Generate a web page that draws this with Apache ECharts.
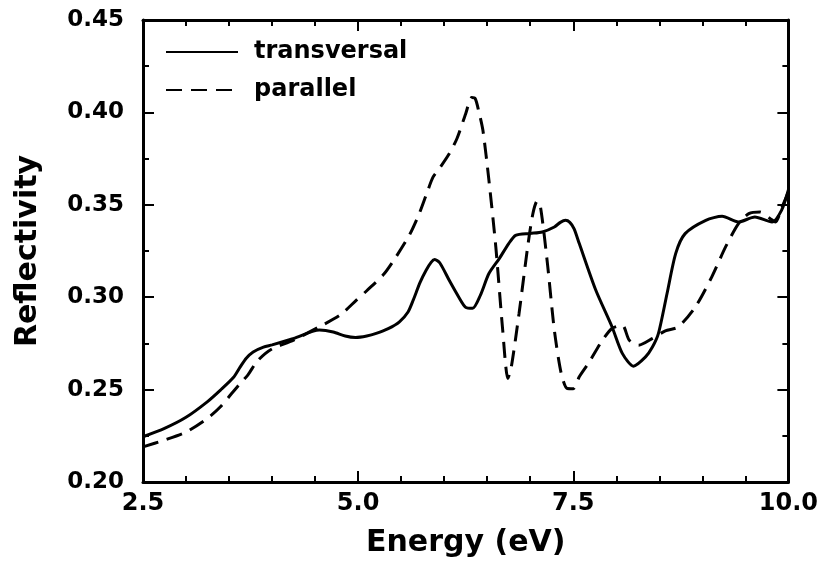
<!DOCTYPE html>
<html>
<head>
<meta charset="utf-8">
<script src="https://cdn.jsdelivr.net/npm/echarts@6/dist/echarts.min.js"></script>
<style>
html,body{margin:0;padding:0;background:#fff;}
#chart{width:821px;height:564px;}
</style>
</head>
<body>
<div id="chart"></div>
<script>
// ---- data ----
var seriesNames = ['transversal', 'parallel'];

var transEnergy = [2.5, 2.75, 3.0, 3.25, 3.4, 3.55, 3.63, 3.7, 3.78, 3.9, 4.0, 4.25, 4.55, 4.71, 4.85, 4.97, 5.1, 5.21, 5.35, 5.48, 5.58, 5.64, 5.72, 5.79, 5.85, 5.89, 5.95, 6.06, 6.17, 6.25, 6.33, 6.42, 6.52, 6.64, 6.75, 6.83, 7.0, 7.14, 7.28, 7.35, 7.41, 7.46, 7.51, 7.57, 7.76, 7.95, 8.07, 8.2, 8.34, 8.42, 8.49, 8.59, 8.69, 8.8, 9.04, 9.23, 9.42, 9.61, 9.81, 9.92, 10.0];
var transRefl = [0.2245, 0.229, 0.235, 0.2435, 0.2497, 0.2565, 0.2623, 0.267, 0.2704, 0.273, 0.2742, 0.2777, 0.2822, 0.2812, 0.279, 0.2782, 0.279, 0.2804, 0.283, 0.2867, 0.292, 0.2984, 0.308, 0.3146, 0.319, 0.3204, 0.3185, 0.309, 0.300, 0.2945, 0.294, 0.301, 0.3128, 0.3209, 0.329, 0.3335, 0.3345, 0.3353, 0.338, 0.3405, 0.3416, 0.3405, 0.337, 0.329, 0.304, 0.284, 0.2696, 0.2627, 0.2677, 0.273, 0.2804, 0.302, 0.3236, 0.3344, 0.3416, 0.3438, 0.3407, 0.3434, 0.3407, 0.347, 0.358];

var paraEnergy = [2.5, 2.75, 3.0, 3.25, 3.4, 3.55, 3.63, 3.72, 3.82, 3.92, 4.01, 4.25, 4.55, 4.79, 4.98, 5.1, 5.3, 5.44, 5.6, 5.71, 5.8, 5.87, 5.95, 6.06, 6.15, 6.25, 6.32, 6.36, 6.4, 6.45, 6.52, 6.6, 6.68, 6.74, 6.78, 6.87, 6.97, 7.03, 7.08, 7.12, 7.2, 7.28, 7.36, 7.43, 7.5, 7.57, 7.68, 7.84, 7.95, 8.07, 8.15, 8.26, 8.42, 8.57, 8.72, 8.92, 9.11, 9.27, 9.42, 9.54, 9.67, 9.79, 9.85, 9.92, 10.0];
var paraRefl = [0.219, 0.2227, 0.227, 0.2345, 0.2407, 0.249, 0.2533, 0.258, 0.265, 0.2695, 0.2723, 0.2768, 0.284, 0.2903, 0.2984, 0.3035, 0.3125, 0.3218, 0.334, 0.3452, 0.3565, 0.365, 0.370, 0.3777, 0.386, 0.3993, 0.408, 0.4075, 0.401, 0.3903, 0.3632, 0.3272, 0.2822, 0.256, 0.2623, 0.2912, 0.3272, 0.345, 0.352, 0.3485, 0.3182, 0.2822, 0.2588, 0.2506, 0.2505, 0.2569, 0.2645, 0.2768, 0.2831, 0.2849, 0.2768, 0.274, 0.2777, 0.2818, 0.2839, 0.2948, 0.311, 0.3272, 0.3398, 0.3452, 0.3461, 0.3425, 0.3407, 0.348, 0.357];

var xMin = 2.5, xMax = 10.0, xStep = 2.5;
var yMin = 0.20, yMax = 0.45, yStep = 0.05;
var xTitle = 'Energy (eV)';
var yTitle = 'Reflectivity';

function pairs(xs, ys) {
  var out = [];
  for (var i = 0; i < xs.length; i++) out.push([xs[i], ys[i]]);
  return out;
}

var FONT = 'DejaVu Sans';
var chart = echarts.init(document.getElementById('chart'), null, {renderer: 'canvas'});

function xAxisCfg(pos, labels) {
  return {
    type: 'value', position: pos, min: xMin, max: xMax, interval: xStep,
    axisLine: {show: true, onZero: false, lineStyle: {color: '#000', width: 3}},
    axisTick: {show: true, inside: true, length: 11, lineStyle: {color: '#000', width: 2}},
    minorTick: {show: true, splitNumber: 5, length: 6, lineStyle: {color: '#000', width: 2}},
    splitLine: {show: false},
    axisLabel: {show: labels, margin: 10, color: '#000', fontFamily: FONT, fontWeight: 'bold', fontSize: 24,
      formatter: function (v) { return v.toFixed(1); }},
    name: labels ? xTitle : '', nameLocation: 'middle', nameGap: 46,
    nameTextStyle: {color: '#000', fontFamily: FONT, fontWeight: 'bold', fontSize: 30}
  };
}
function yAxisCfg(pos, labels) {
  return {
    type: 'value', position: pos, min: yMin, max: yMax, interval: yStep,
    axisLine: {show: true, onZero: false, lineStyle: {color: '#000', width: 3}},
    axisTick: {show: true, inside: true, length: 11, lineStyle: {color: '#000', width: 2}},
    minorTick: {show: true, splitNumber: 2, length: 6, lineStyle: {color: '#000', width: 2}},
    splitLine: {show: false},
    axisLabel: {show: labels, margin: 19, color: '#000', fontFamily: FONT, fontWeight: 'bold', fontSize: 23,
      formatter: function (v) { return v.toFixed(2); }},
    name: labels ? yTitle : '', nameLocation: 'middle', nameGap: 100, nameRotate: 90,
    nameTextStyle: {color: '#000', fontFamily: FONT, fontWeight: 'bold', fontSize: 30}
  };
}

chart.setOption({
  animation: false,
  backgroundColor: '#fff',
  grid: {left: 143, right: 31, top: 20, bottom: 82, containLabel: false},
  legend: {
    data: seriesNames,
    orient: 'vertical', left: 165, top: 40, padding: 0,
    itemWidth: 72, itemHeight: 14, itemGap: 14,
    itemStyle: {color: 'rgba(0,0,0,0)', borderWidth: 0, opacity: 0},
    textStyle: {color: '#000', fontFamily: FONT, fontWeight: 'bold', fontSize: 24, lineHeight: 24, padding: [0, 0, 0, 11]}
  },
  xAxis: [xAxisCfg('bottom', true), xAxisCfg('top', false)],
  yAxis: [yAxisCfg('left', true), yAxisCfg('right', false)],
  series: [
    {
      name: seriesNames[0], type: 'line', xAxisIndex: 0, yAxisIndex: 0,
      data: pairs(transEnergy, transRefl), symbol: 'none', smooth: 0.25,
      lineStyle: {color: '#000', width: 3, type: 'solid'}, itemStyle: {color: '#000'}
    },
    {
      name: seriesNames[1], type: 'line', xAxisIndex: 0, yAxisIndex: 0,
      data: pairs(paraEnergy, paraRefl), symbol: 'none', smooth: 0.25,
      lineStyle: {color: '#000', width: 3, type: [16, 9]}, itemStyle: {color: '#000'}
    }
  ]
});
</script>
</body>
</html>
